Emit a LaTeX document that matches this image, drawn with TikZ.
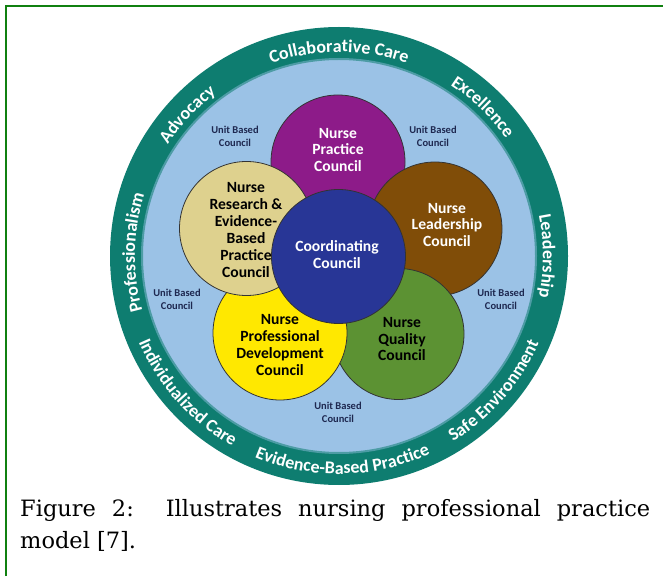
\documentclass[tikz,border=0pt]{standalone}
\usepackage{fontspec}
\setmainfont{DejaVu Serif}
\newfontfamily\carlito{Carlito}
\usetikzlibrary{decorations.text}

\definecolor{framegreen}{RGB}{16,128,16}
\definecolor{ringteal}{RGB}{14,125,112}
\definecolor{skyblue}{RGB}{155,194,230}
\definecolor{practicepurple}{RGB}{141,27,137}
\definecolor{researchtan}{RGB}{222,209,142}
\definecolor{leadershipbrown}{RGB}{128,77,8}
\definecolor{coordblue}{RGB}{40,54,150}
\definecolor{devyellow}{RGB}{255,232,0}
\definecolor{qualitygreen}{RGB}{92,146,51}
\definecolor{unitnavy}{RGB}{30,40,80}

\newcommand{\ringfont}{\carlito\bfseries\fontsize{18}{18}\selectfont}

\tikzset{
  petal/.style={circle, draw=black!80, line width=0.8pt, minimum size=134pt, inner sep=0pt},
  counciltext/.style={font=\carlito\bfseries\fontsize{15.6}{16.8}\selectfont, align=center},
  unittext/.style={font=\carlito\bfseries\fontsize{10.5}{13}\selectfont, align=center, text=unitnavy},
  ringtext/.style={decorate, decoration={text along path, text align=center, text color=white,
      text/.expanded={|\noexpand\ringfont|#1}}}
}

\begin{document}
\begin{tikzpicture}[x=1pt,y=1pt]
\useasboundingbox (0,0) rectangle (663,576);
\draw[framegreen, line width=2.5pt] (6,0) -- (6,570) -- (663,570); % frame

\coordinate (C) at (339,320);
\fill[ringteal] (C) circle (229);
\filldraw[fill=skyblue, draw=ringteal!55!skyblue, line width=2pt] (C) circle (197);

% ring words, top half clockwise, bottom half counter clockwise
\foreach \ang/\txt in {179/Professionalism, 137/Advocacy, 90/Collaborative Care, 46/Excellence, 0/Leadership}
\path[ringtext=\txt, shift={(C)}] (\ang+40:204) arc[start angle=\ang+40, end angle=\ang-40, radius=204];
\foreach \ang/\txt in {222/Individualized Care, 271/Evidence-Based Practice, 319/Safe Environment}
\path[ringtext=\txt, shift={(C)}] (\ang-40:218) arc[start angle=\ang-40, end angle=\ang+40, radius=218];

% councils
\node[petal, fill=practicepurple] (practice) at (338,414) {};
\node[petal, fill=leadershipbrown] (leadership) at (435,347) {};
\node[petal, fill=qualitygreen, minimum size=131pt] (quality) at (398.5,242) {};
\node[petal, fill=devyellow] (development) at (280,243) {};
\node[petal, fill=researchtan] (research) at (246.5,347.5) {};
\node[petal, fill=coordblue] (coordinating) at (338.5,319.5) {};

\node[counciltext, text=white] (practicetxt) at (338,426) {Nurse\\Practice\\Council};
\node[counciltext] (researchtxt) at (246,346) {Nurse\\Research \&\\Evidence-\\Based\\Practice\\Council};
\node[counciltext, text=white] (leadershiptxt) at (447,351) {Nurse\\Leadership\\Council};
\node[counciltext, text=white] (coordinatingtxt) at (337,321.5) {Coordinating\\Council};
\node[counciltext] (developmenttxt) at (280,231) {Nurse\\Professional\\Development\\Council};
\node[counciltext] (qualitytxt) at (402,237) {Nurse\\Quality\\Council};

% unit based councils
\foreach \n/\x/\y in {ubc1/235/439.5, ubc2/433/439.5, ubc3/177/276.5, ubc4/501/276.5, ubc5/338/164}
\node[unittext] (\n) at (\x,\y) {Unit Based\\Council};

\node[anchor=north west, inner sep=0pt, text width=630pt, align=justify,
  font=\fontsize{22.5}{32}\selectfont] (caption) at (20,77)
  {Figure 2:\ \ Illustrates nursing professional practice\linebreak model [7].};
\end{tikzpicture}
\end{document}
